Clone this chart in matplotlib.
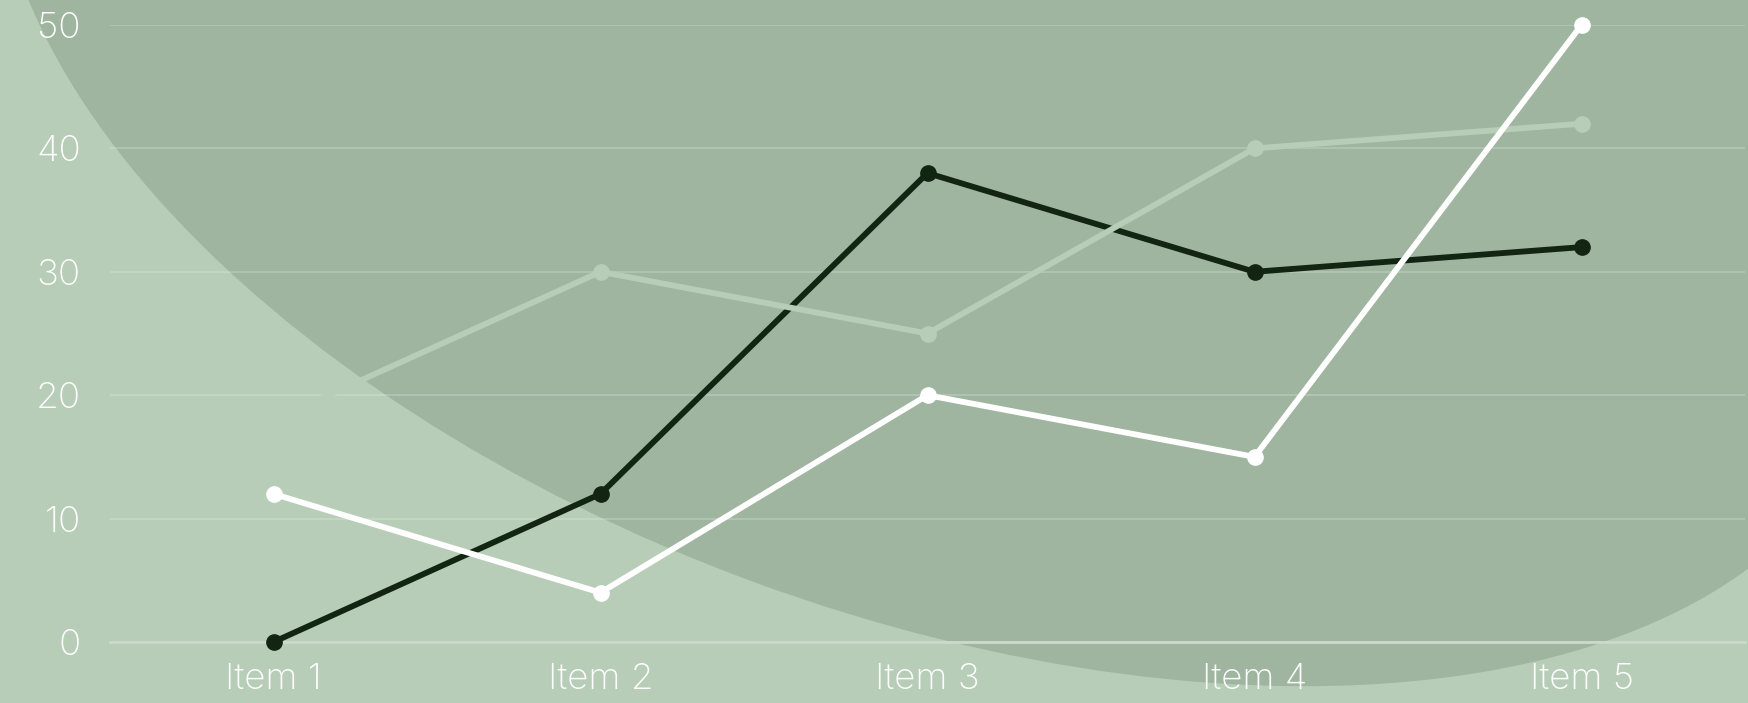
import numpy as np
import matplotlib
matplotlib.use("Agg")
import matplotlib.pyplot as plt
from matplotlib.patches import Ellipse

# ---- data ----
categories = ["Item 1", "Item 2", "Item 3", "Item 4", "Item 5"]
series_dark = [0, 12, 38, 30, 32]
series_pale = [18, 30, 25, 40, 42]
series_white = [12, 4, 20, 15, 50]
y_ticks = [0, 10, 20, 30, 40, 50]

# ---- palette ----
BG_LIGHT = "#b7cdb8"
BG_DARK = "#9fb5a0"
C_DARK = "#122412"
C_PALE = BG_LIGHT
C_WHITE = "#ffffff"

W, H, DPI = 1748, 703, 100
fig = plt.figure(figsize=(W / DPI, H / DPI), dpi=DPI, facecolor=BG_LIGHT)

# decorative background layer, laid out in pixel units (origin top-left)
bg = fig.add_axes([0, 0, 1, 1], zorder=0)
bg.set_xlim(0, W)
bg.set_ylim(H, 0)
bg.axis("off")
bg.add_patch(Ellipse((939, 79), 1972, 1072, angle=20.17,
                     facecolor=BG_DARK, edgecolor="none"))

# chart layer
left, right = 110 / W, 1745 / W
bottom, top = (H - 642) / H, (H - 25) / H
ax = fig.add_axes([left, bottom, right - left, top - bottom], zorder=1)
ax.patch.set_alpha(0)

xs = np.arange(len(categories))
line_kw = dict(lw=4.2, marker="o", ms=11, solid_capstyle="round",
               solid_joinstyle="round", clip_on=False)
ax.plot(xs, series_dark, color=C_DARK, zorder=3, **line_kw)
ax.plot(xs, series_pale, color=C_PALE, zorder=4, **line_kw)
ax.plot(xs, series_white, color=C_WHITE, zorder=5, **line_kw)

ax.set_xlim(-0.5, len(categories) - 0.5)
ax.set_ylim(0, 50)
ax.set_xticks(xs, categories)
ax.set_yticks(y_ticks)
ax.grid(axis="y", color="white", alpha=0.18, lw=1.5)
ax.set_axisbelow(True)
for s in ["top", "right", "left"]:
    ax.spines[s].set_visible(False)
ax.spines["bottom"].set_color("#cbdacb")
ax.spines["bottom"].set_linewidth(2)

ax.tick_params(axis="both", length=0)
ax.tick_params(axis="y", pad=21)
ax.tick_params(axis="x", pad=15)
for lab in ax.get_xticklabels() + ax.get_yticklabels():
    lab.set_fontfamily("Inter")
    lab.set_fontweight("light")
    lab.set_fontsize(26.5)
    lab.set_color("white")

fig.savefig("out.png", dpi=DPI, facecolor=BG_LIGHT)
